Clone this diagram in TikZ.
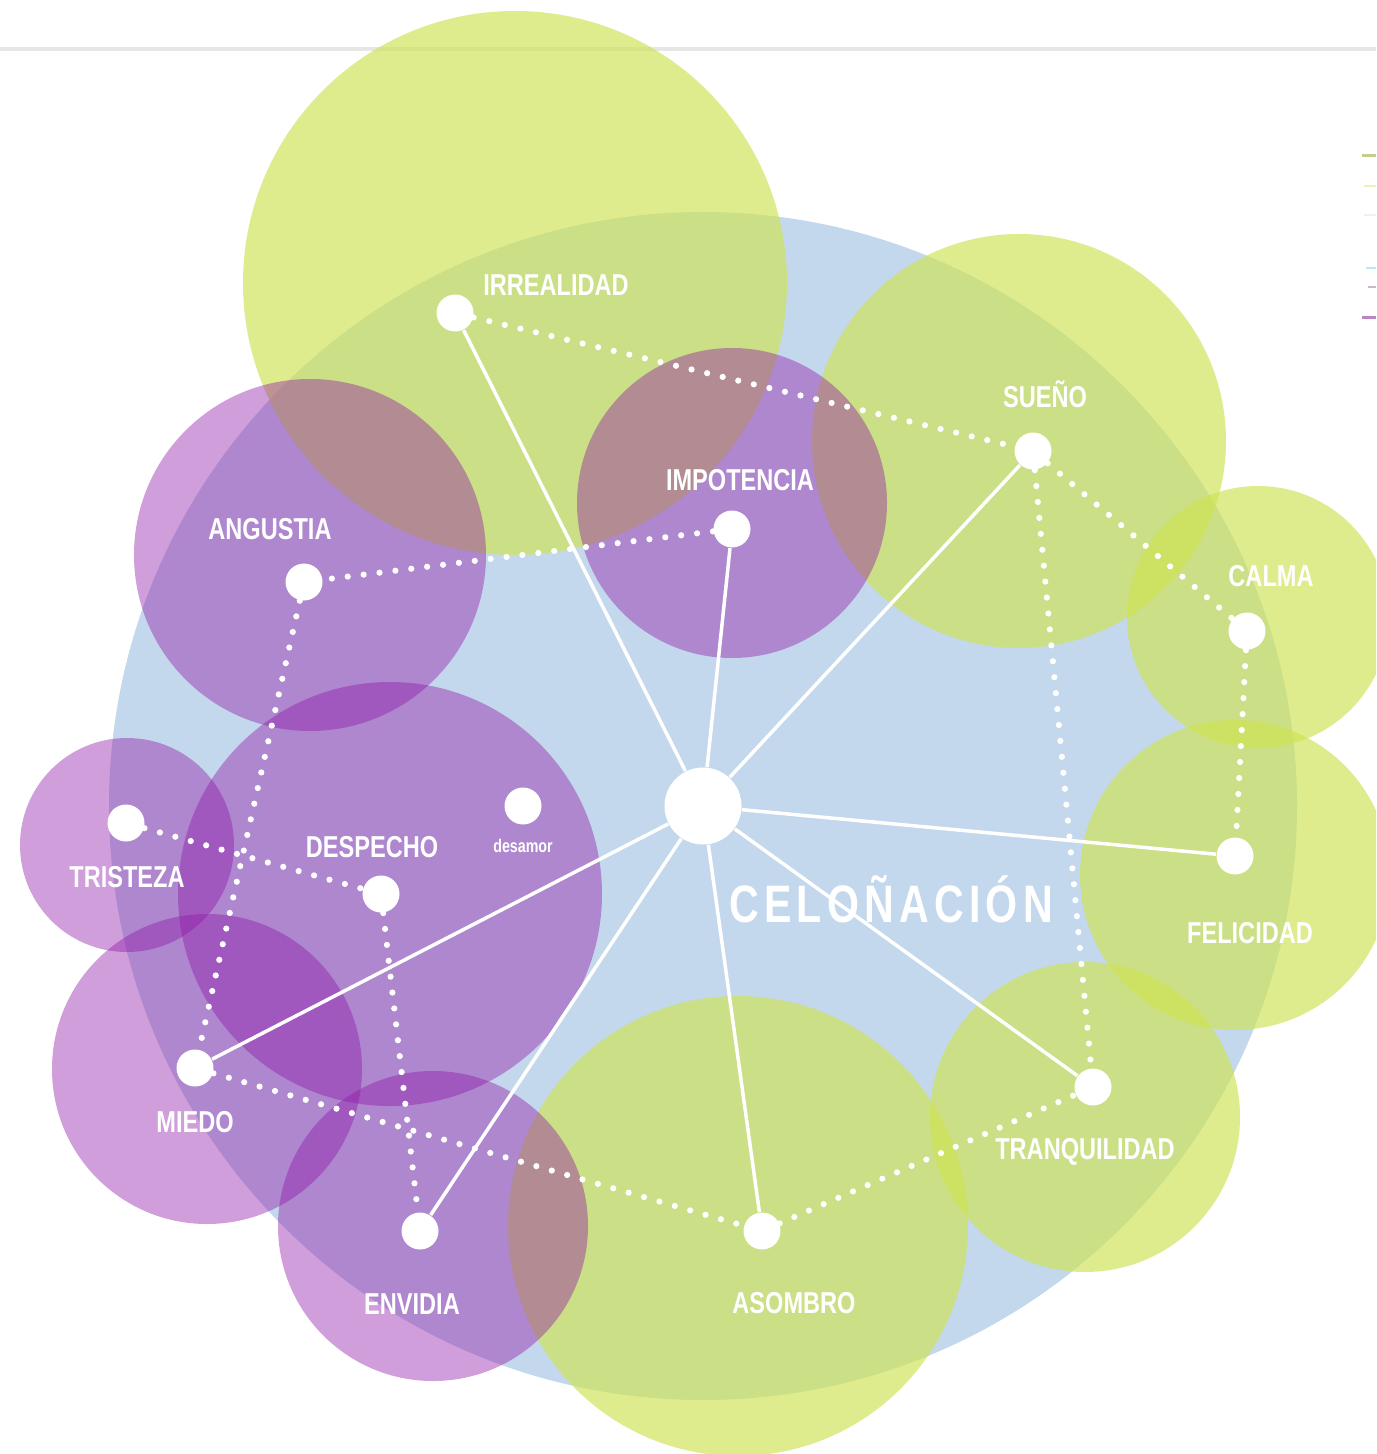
\documentclass[tikz,border=0pt]{standalone}
\usepackage{fontspec}
\newfontfamily\labfont[FakeStretch=0.78]{Liberation Sans}
\definecolor{celblue}{RGB}{195,216,236}
\definecolor{celgreen}{RGB}{207,227,82}
\definecolor{celpurple}{RGB}{145,24,167}
\definecolor{rule}{RGB}{230,230,230}

\begin{document}
\begin{tikzpicture}
    [
    x=0.1mm, y=-0.1mm,
    point/.style={circle,fill=white,inner sep=0pt,minimum size=3.7mm},
    hub/.style={circle,fill=white,inner sep=0pt,minimum size=7.7mm},
    lbl/.style={text=white,font=\labfont\bfseries\fontsize{8.6}{10}\selectfont,anchor=base,inner sep=0pt},
    spoke/.style={white,line width=0.35mm},
    dotline/.style={white,line width=0.62mm,line cap=round,dash pattern=on 0pt off 1.6mm},
    greenblob/.style={fill=celgreen,fill opacity=0.66},
    purpleblob/.style={fill=celpurple,fill opacity=0.42},
    ]
    \useasboundingbox (0,0) rectangle (1376,1454);
    \fill [white] (0,0) rectangle (1376,1454);
    \clip (0,0) rectangle (1376,1454);
    \draw [rule, line width=0.35mm] (0,49) -- (1376,49);

    % background blobs
    \fill [celblue] (703,806) circle (594);
    \fill [greenblob] (515,283) circle (272);
    \fill [greenblob] (1019,441) circle (207);
    \fill [greenblob] (1258,617) circle (131);
    \fill [greenblob] (1235,875) circle (155);
    \fill [greenblob] (1085,1117) circle (155);
    \fill [greenblob] (738,1226) circle (230);
    \fill [purpleblob] (310,555) circle (176);
    \fill [purpleblob] (732,503) circle (155);
    \fill [purpleblob] (390,894) circle (212);
    \fill [purpleblob] (127,845) circle (107);
    \fill [purpleblob] (207,1069) circle (155);
    \fill [purpleblob] (433,1226) circle (155);

    % points
    \node (cel) at (703,806) [hub] {};
    \node (irr) at (455,313) [point] {};
    \node (sue) at (1033,451) [point] {};
    \node (imp) at (732,529) [point] {};
    \node (ang) at (304,582) [point] {};
    \node (cal) at (1247,631) [point] {};
    \node (des) at (523,806) [point] {};
    \node (tri) at (126,823) [point] {};
    \node (dsp) at (381,894) [point] {};
    \node (fel) at (1235,856) [point] {};
    \node (mie) at (195,1068) [point] {};
    \node (tra) at (1093,1087) [point] {};
    \node (env) at (420,1231) [point] {};
    \node (aso) at (762,1231) [point] {};

    \draw [spoke] (cel) to (irr);
    \draw [spoke] (cel) to (imp);
    \draw [spoke] (cel) to (sue);
    \draw [spoke] (cel) to (fel);
    \draw [spoke] (cel) to (tra);
    \draw [spoke] (cel) to (aso);
    \draw [spoke] (cel) to (env);
    \draw [spoke] (cel) to (mie);

    \draw [dotline] (irr) to (sue);
    \draw [dotline] (sue) to (cal);
    \draw [dotline] (sue) to (tra);
    \draw [dotline] (cal) to (fel);
    \draw [dotline] (imp) to (ang);
    \draw [dotline] (ang) to (mie);
    \draw [dotline] (tri) to (dsp);
    \draw [dotline] (dsp) to (env);
    \draw [dotline] (mie) to (aso);
    \draw [dotline] (aso) to (tra);

    % labels
    \node (irr-l) at (556,296) [lbl] {IRREALIDAD};
    \node (sue-l) at (1045,408) [lbl] {SUEÑO};
    \node (imp-l) at (740,490) [lbl] {IMPOTENCIA};
    \node (ang-l) at (270,539) [lbl] {ANGUSTIA};
    \node (cal-l) at (1271,586) [lbl] {CALMA};
    \node (des-l) at (523,852) [lbl, font=\labfont\bfseries\fontsize{5.2}{6}\selectfont] {desamor};
    \node (tri-l) at (127,887) [lbl] {TRISTEZA};
    \node (dsp-l) at (372,857) [lbl] {DESPECHO};
    \node (fel-l) at (1250,943) [lbl] {FELICIDAD};
    \node (mie-l) at (195,1132) [lbl] {MIEDO};
    \node (tra-l) at (1085,1159) [lbl] {TRANQUILIDAD};
    \node (env-l) at (412,1314) [lbl] {ENVIDIA};
    \node (aso-l) at (794,1313) [lbl] {ASOMBRO};
    \node (cel-l) at (891,922) [lbl, font=\labfont\bfseries\fontsize{15}{17}\selectfont\addfontfeature{LetterSpace=10}] {CELOÑACIÓN};

    % cut-off marks at the right edge
    \draw [line width=0.3mm, draw opacity=0.45, olive!80!green] (1362,156) -- (1376,156);
    \draw [line width=0.25mm, draw opacity=0.4, celgreen] (1364,186) -- (1376,186);
    \draw [line width=0.25mm, draw opacity=0.3, cyan!20!gray!40] (1364,215) -- (1376,215);
    \draw [line width=0.2mm, draw opacity=0.45, cyan!60] (1366,268) -- (1376,268);
    \draw [line width=0.2mm, draw opacity=0.4, gray!60!violet] (1368,287) -- (1376,287);
    \draw [line width=0.3mm, draw opacity=0.5, celpurple!80!black] (1362,318) -- (1376,318);
  \end{tikzpicture}
\end{document}
